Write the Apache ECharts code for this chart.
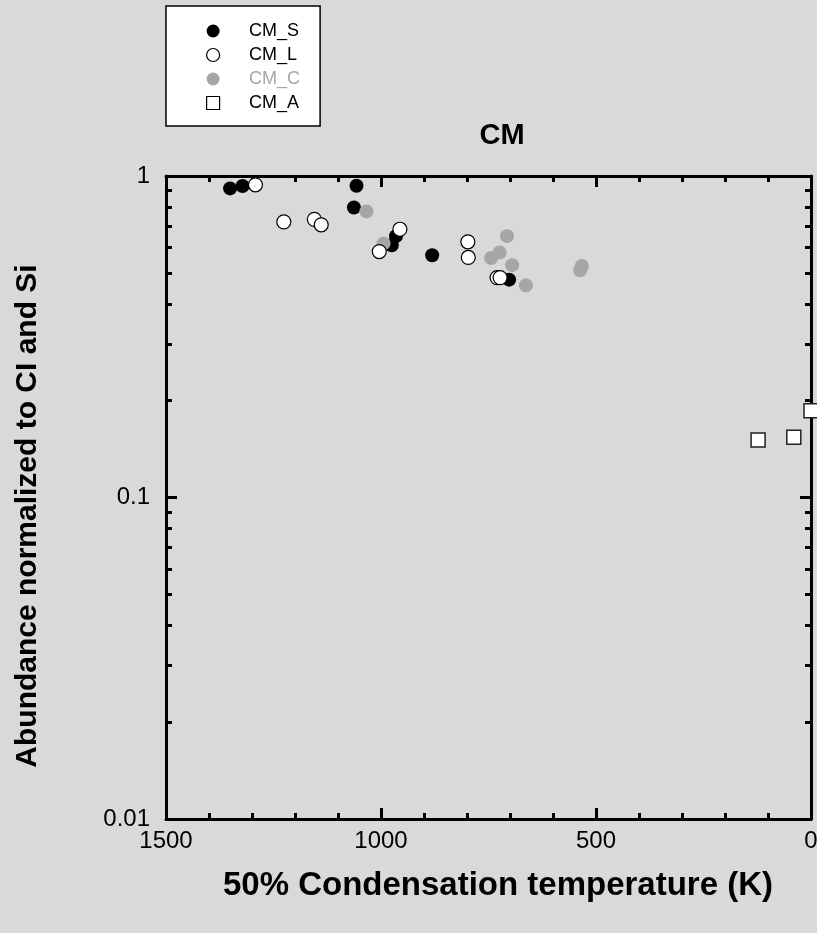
<!DOCTYPE html>
<html>
<head>
<meta charset="utf-8">
<script src="https://cdn.jsdelivr.net/npm/echarts@6/dist/echarts.min.js"></script>
<style>
  html, body { margin: 0; padding: 0; background: #d9d9d9; }
  #chart { width: 817px; height: 933px; }
</style>
</head>
<body>
<div id="chart"></div>
<script>
// 50% condensation temperature (K) and abundance (normalized to CI and Si)
const cmS_T = [1351, 1322, 1057, 1063, 965, 975, 881, 702];
const cmS_V = [0.915, 0.931, 0.933, 0.798, 0.650, 0.609, 0.567, 0.476];

const cmL_T = [1292, 1226, 1155, 1139, 956, 1004, 798, 797, 730, 723];
const cmL_V = [0.939, 0.720, 0.733, 0.705, 0.683, 0.582, 0.624, 0.558, 0.483, 0.483];

const cmC_T = [1034, 994, 707, 724, 744, 695, 663, 533, 537];
const cmC_V = [0.776, 0.617, 0.650, 0.578, 0.556, 0.528, 0.457, 0.525, 0.509];

const cmA_T = [123, 40, 0];
const cmA_V = [0.151, 0.154, 0.186];

const seriesNames = ['CM_S', 'CM_L', 'CM_C', 'CM_A'];
const yMinorTicks = [0.02, 0.03, 0.04, 0.05, 0.06, 0.07, 0.08, 0.09,
                     0.2, 0.3, 0.4, 0.5, 0.6, 0.7, 0.8, 0.9];

const FONT = 'Liberation Sans, Arial, Helvetica, sans-serif';
const GRAY = '#a6a6a6';

function pairs(xs, ys) { return xs.map((x, i) => [x, ys[i]]); }

const squarePath = 'path://M0,0 L10,0 L10,10 L0,10 Z';
const frameLine = { show: true, onZero: false, lineStyle: { color: '#000', width: 3 } };
const gridRect = { left: 166, right: 6, top: 176, bottom: 114,
                   containLabel: false, outerBoundsMode: 'none' };

function xAxisDef(gridIndex, position, showLabels) {
  return {
    type: 'value', gridIndex: gridIndex, position: position, inverse: true,
    min: 0, max: 1500, interval: 500,
    axisLine: frameLine,
    axisTick: { show: true, inside: true, length: 11, lineStyle: { color: '#000', width: 3 } },
    minorTick: { show: true, splitNumber: 5, length: 6, lineStyle: { color: '#000', width: 3 } },
    axisLabel: { show: showLabels, color: '#000', fontSize: 24, fontFamily: FONT, margin: 10,
                 formatter: v => String(v) },
    splitLine: { show: false }, minorSplitLine: { show: false }
  };
}

// decade ticks (long) with the frame line
function yMajor(gridIndex, position, showLabels) {
  return {
    type: 'log', logBase: 10, gridIndex: gridIndex, position: position, min: 0.01, max: 1,
    axisLine: frameLine,
    axisTick: { show: true, inside: true, length: 11, lineStyle: { color: '#000', width: 3 } },
    axisLabel: {
      show: showLabels, color: '#000', fontSize: 24, fontFamily: FONT, margin: 16,
      formatter: v => String(Number(v.toPrecision(3)))
    },
    splitLine: { show: false }
  };
}

// 2..9 ticks inside each decade (short)
function yMinor(gridIndex, position) {
  return {
    type: 'log', logBase: 10, gridIndex: gridIndex, position: position, min: 0.01, max: 1,
    axisLine: { show: false, onZero: false },
    axisTick: { show: true, inside: true, length: 6, customValues: yMinorTicks,
                lineStyle: { color: '#000', width: 3 } },
    axisLabel: { show: false },
    splitLine: { show: false }
  };
}

const option = {
  backgroundColor: '#d9d9d9',
  animation: false,
  title: {
    text: 'CM', left: 497, top: 116, textAlign: 'center',
    textStyle: { color: '#000', fontSize: 29, fontWeight: 'bold', fontFamily: FONT }
  },
  legend: {
    orient: 'vertical', left: 166, top: 6,
    backgroundColor: '#fff', borderColor: '#000', borderWidth: 1.5,
    padding: [16, 20, 14, 40],
    itemWidth: 62, itemHeight: 13, itemGap: 6,
    textStyle: { fontSize: 18, fontFamily: FONT, color: '#000' },
    data: [
      { name: 'CM_S', icon: 'circle', itemStyle: { color: '#000', borderWidth: 0 } },
      { name: 'CM_L', icon: 'circle', itemStyle: { color: '#fff', borderColor: '#000', borderWidth: 1.2 } },
      { name: 'CM_C', icon: 'circle', itemStyle: { color: GRAY, borderWidth: 0 }, textStyle: { color: GRAY } },
      { name: 'CM_A', icon: squarePath, itemStyle: { color: '#fff', borderColor: '#000', borderWidth: 1.2 } }
    ]
  },
  grid: [Object.assign({}, gridRect), Object.assign({}, gridRect)],
  xAxis: [xAxisDef(0, 'bottom', true), xAxisDef(1, 'top', false)],
  yAxis: [yMajor(0, 'left', true), yMajor(0, 'right', false), yMinor(1, 'left'), yMinor(1, 'right')],
  graphic: [
    {
      type: 'text', x: 28, y: 516, rotation: Math.PI / 2,
      style: { text: 'Abundance normalized to CI and Si', fill: '#000',
               font: 'bold 30px ' + FONT, textAlign: 'center', textVerticalAlign: 'middle' }
    },
    {
      type: 'text', x: 498, y: 886,
      style: { text: '50% Condensation temperature (K)', fill: '#000',
               font: 'bold 33px ' + FONT, textAlign: 'center', textVerticalAlign: 'middle' }
    }
  ],
  series: [
    {
      name: seriesNames[0], type: 'scatter', symbol: 'circle', symbolSize: 14, clip: false,
      xAxisIndex: 0, yAxisIndex: 0,
      itemStyle: { color: '#000', opacity: 1 },
      data: pairs(cmS_T, cmS_V), z: 3
    },
    {
      name: seriesNames[2], type: 'scatter', symbol: 'circle', symbolSize: 14, clip: false,
      xAxisIndex: 0, yAxisIndex: 0,
      itemStyle: { color: GRAY, opacity: 1 },
      data: pairs(cmC_T, cmC_V), z: 4
    },
    {
      name: seriesNames[1], type: 'scatter', symbol: 'circle', symbolSize: 14, clip: false,
      xAxisIndex: 0, yAxisIndex: 0,
      itemStyle: { color: '#fff', borderColor: '#000', borderWidth: 1.2, opacity: 1 },
      data: pairs(cmL_T, cmL_V), z: 5
    },
    {
      name: seriesNames[3], type: 'scatter', symbol: 'rect', symbolSize: 14, clip: false,
      xAxisIndex: 0, yAxisIndex: 0,
      itemStyle: { color: '#fff', borderColor: '#222', borderWidth: 1.5, opacity: 1 },
      data: pairs(cmA_T, cmA_V), z: 6
    }
  ]
};

const chart = echarts.init(document.getElementById('chart'), null, { renderer: 'canvas' });
chart.setOption(option);
</script>
</body>
</html>
